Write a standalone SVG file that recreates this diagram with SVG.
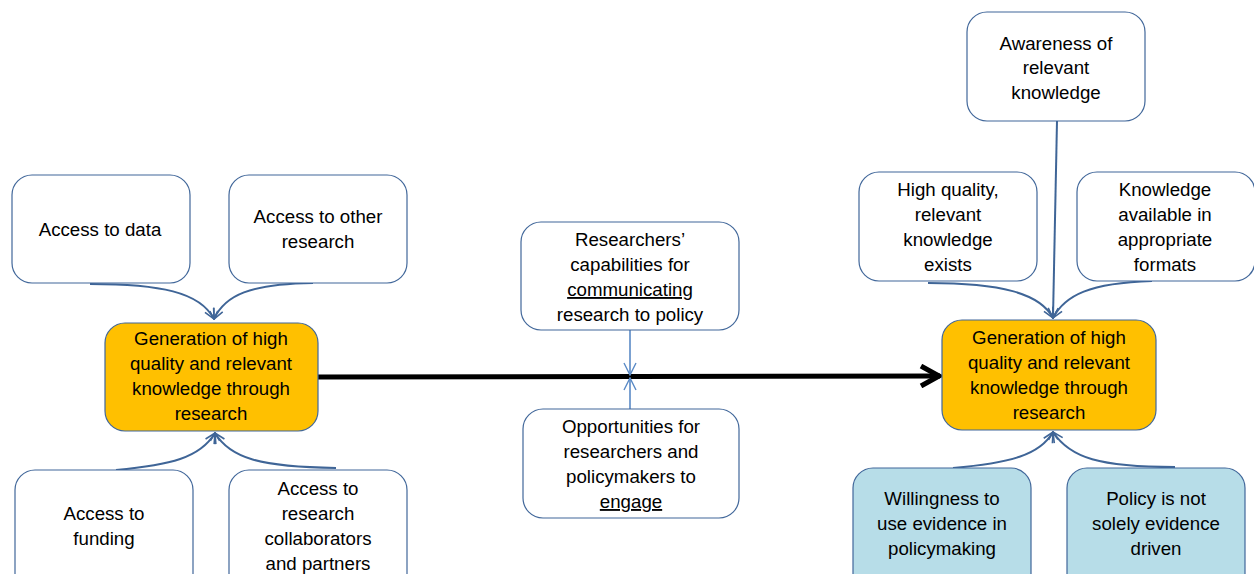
<svg xmlns="http://www.w3.org/2000/svg" width="1254" height="574" viewBox="0 0 1254 574">
<style>
.box{fill:#ffffff;stroke:#41679a;stroke-width:1.2}
.org{fill:#ffc000;stroke:#41679a;stroke-width:1.2}
.blu{fill:#b7dde8;stroke:#41679a;stroke-width:1.2}
text{font-family:"Liberation Sans",Arial,sans-serif;font-size:18.7px;fill:#000;text-anchor:middle}
.c{fill:none;stroke:#3f6597;stroke-width:2}
.v{fill:none;stroke:#5a8ac6;stroke-width:1.6}
</style>
<defs>
<marker id="ah" viewBox="0 0 12 12" refX="11" refY="6" markerWidth="12" markerHeight="12" markerUnits="userSpaceOnUse" orient="auto">
<path d="M1,1 L11,6 L1,11 M11,6 L2,6" fill="none" stroke="#3f6597" stroke-width="1.6"/>
</marker>
<marker id="ahv" viewBox="0 0 14 14" refX="13" refY="7" markerWidth="14" markerHeight="14" markerUnits="userSpaceOnUse" orient="auto">
<path d="M1,1 L13,7 L1,13" fill="none" stroke="#5a8ac6" stroke-width="1.4"/>
</marker>
<marker id="big" viewBox="0 0 24 24" refX="22" refY="12" markerWidth="24" markerHeight="24" markerUnits="userSpaceOnUse" orient="auto">
<path d="M3,2 L21,12 L3,22" fill="none" stroke="#000" stroke-width="5" stroke-linejoin="miter"/>
</marker>
</defs>
<g id="connectors">
<line x1="318" y1="377" x2="940" y2="376" stroke="#000" stroke-width="5" marker-end="url(#big)"/>
<path class="c" d="M90,284 C160,284 200,292 214,319" marker-end="url(#ah)"/>
<path class="c" d="M313,283 C250,284 225,295 214,319" marker-end="url(#ah)"/>
<path class="c" d="M116,470 C170,465 200,458 215,433" marker-end="url(#ah)"/>
<path class="c" d="M336,468 C260,467 230,458 215,433" marker-end="url(#ah)"/>
<path class="v" d="M630,330 L630,375" marker-end="url(#ahv)"/>
<path class="v" d="M630,409 L630,378" marker-end="url(#ahv)"/>
<path class="c" d="M1057,121 L1053,318" marker-end="url(#ah)"/>
<path class="c" d="M928,283 C1000,283 1040,293 1053,318" marker-end="url(#ah)"/>
<path class="c" d="M1152,281 C1090,283 1065,295 1053,318" marker-end="url(#ah)"/>
<path class="c" d="M953,468 C1010,463 1040,455 1053,432" marker-end="url(#ah)"/>
<path class="c" d="M1175,467 C1100,467 1070,458 1053,432" marker-end="url(#ah)"/>
</g>
<g id="access-data"><rect class="box" x="12" y="175" width="178" height="108" rx="20"/><text x="100" y="236">Access to data</text></g>
<g id="access-other"><rect class="box" x="229" y="175" width="178" height="108" rx="20"/><text x="318" y="223">Access to other</text><text x="318" y="248">research</text></g>
<g id="gen-left"><rect class="org" x="105" y="323" width="213" height="108" rx="20"/><text x="211" y="345">Generation of high</text><text x="211" y="370">quality and relevant</text><text x="211" y="395">knowledge through</text><text x="211" y="420">research</text></g>
<g id="access-funding"><rect class="box" x="15" y="470" width="178" height="130" rx="20"/><text x="104" y="520">Access to</text><text x="104" y="545">funding</text></g>
<g id="access-collab"><rect class="box" x="229" y="470" width="178" height="130" rx="20"/><text x="318" y="495">Access to</text><text x="318" y="520">research</text><text x="318" y="545">collaborators</text><text x="318" y="570">and partners</text></g>
<g id="researchers"><rect class="box" x="521" y="222" width="218" height="108" rx="20"/><text x="630" y="246">Researchers’</text><text x="630" y="271">capabilities for</text><text x="630" y="296" text-decoration="underline">communicating</text><text x="630" y="321">research to policy</text></g>
<g id="opportunities"><rect class="box" x="523" y="409" width="216" height="109" rx="20"/><text x="631" y="433">Opportunities for</text><text x="631" y="458">researchers and</text><text x="631" y="483">policymakers to</text><text x="631" y="508" text-decoration="underline">engage</text></g>
<g id="awareness"><rect class="box" x="967" y="12" width="178" height="109" rx="20"/><text x="1056" y="50">Awareness of</text><text x="1056" y="74">relevant</text><text x="1056" y="99">knowledge</text></g>
<g id="high-quality"><rect class="box" x="859" y="172" width="178" height="109" rx="20"/><text x="948" y="196">High quality,</text><text x="948" y="221">relevant</text><text x="948" y="246">knowledge</text><text x="948" y="271">exists</text></g>
<g id="formats"><rect class="box" x="1077" y="172" width="178" height="109" rx="20"/><text x="1165" y="196">Knowledge</text><text x="1165" y="221">available in</text><text x="1165" y="246">appropriate</text><text x="1165" y="271">formats</text></g>
<g id="gen-right"><rect class="org" x="942" y="320" width="214" height="110" rx="20"/><text x="1049" y="344">Generation of high</text><text x="1049" y="369">quality and relevant</text><text x="1049" y="394">knowledge through</text><text x="1049" y="419">research</text></g>
<g id="willingness"><rect class="blu" x="853" y="468" width="178" height="130" rx="20"/><text x="942" y="505">Willingness to</text><text x="942" y="530">use evidence in</text><text x="942" y="555">policymaking</text></g>
<g id="policy"><rect class="blu" x="1067" y="468" width="178" height="130" rx="20"/><text x="1156" y="505">Policy is not</text><text x="1156" y="530">solely evidence</text><text x="1156" y="555">driven</text></g>
</svg>
